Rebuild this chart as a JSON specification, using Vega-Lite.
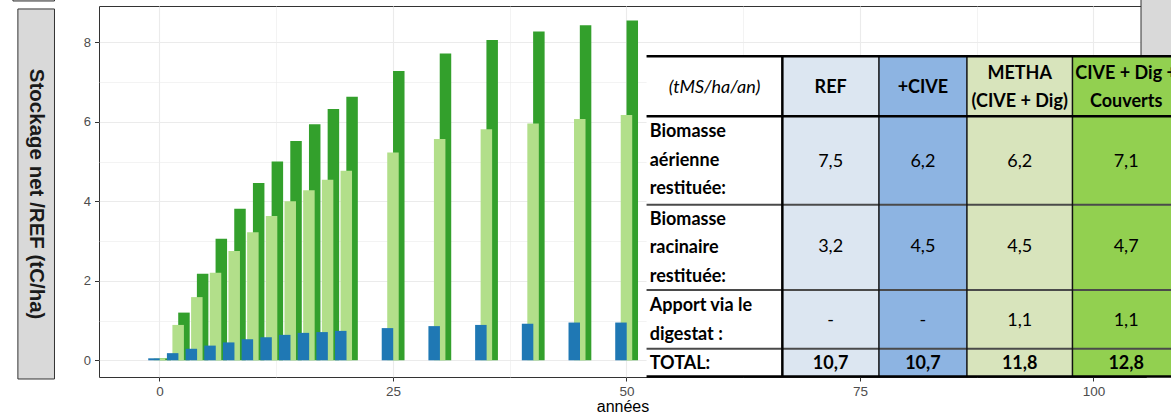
{
"$schema": "https://vega.github.io/schema/vega-lite/v6.json",
"autosize": {"type": "none"},
"width": 1047,
"height": 371,
"padding": {"left": 99, "top": 6, "right": 25, "bottom": 36},
"background": "white",
"config": {"view": {"stroke": "#333333", "strokeWidth": 1}, "font": "Liberation Sans"},
"datasets": {
"barres": [
{"annee":0,"scenario":"+CIVE","stock":0.05},{"annee":2,"scenario":"+CIVE","stock":0.18},{"annee":4,"scenario":"+CIVE","stock":0.29},{"annee":6,"scenario":"+CIVE","stock":0.37},{"annee":8,"scenario":"+CIVE","stock":0.45},{"annee":10,"scenario":"+CIVE","stock":0.53},{"annee":12,"scenario":"+CIVE","stock":0.58},{"annee":14,"scenario":"+CIVE","stock":0.64},{"annee":16,"scenario":"+CIVE","stock":0.69},{"annee":18,"scenario":"+CIVE","stock":0.71},{"annee":20,"scenario":"+CIVE","stock":0.74},{"annee":25,"scenario":"+CIVE","stock":0.81},{"annee":30,"scenario":"+CIVE","stock":0.86},{"annee":35,"scenario":"+CIVE","stock":0.89},{"annee":40,"scenario":"+CIVE","stock":0.92},{"annee":45,"scenario":"+CIVE","stock":0.95},{"annee":50,"scenario":"+CIVE","stock":0.95},
{"annee":0,"scenario":"METHA","stock":0.05},{"annee":2,"scenario":"METHA","stock":0.89},{"annee":4,"scenario":"METHA","stock":1.59},{"annee":6,"scenario":"METHA","stock":2.2},{"annee":8,"scenario":"METHA","stock":2.75},{"annee":10,"scenario":"METHA","stock":3.22},{"annee":12,"scenario":"METHA","stock":3.63},{"annee":14,"scenario":"METHA","stock":4.0},{"annee":16,"scenario":"METHA","stock":4.28},{"annee":18,"scenario":"METHA","stock":4.54},{"annee":20,"scenario":"METHA","stock":4.77},{"annee":25,"scenario":"METHA","stock":5.23},{"annee":30,"scenario":"METHA","stock":5.57},{"annee":35,"scenario":"METHA","stock":5.81},{"annee":40,"scenario":"METHA","stock":5.96},{"annee":45,"scenario":"METHA","stock":6.07},{"annee":50,"scenario":"METHA","stock":6.17},
{"annee":0,"scenario":"CIVE + Dig + Couverts","stock":0.05},{"annee":2,"scenario":"CIVE + Dig + Couverts","stock":1.2},{"annee":4,"scenario":"CIVE + Dig + Couverts","stock":2.18},{"annee":6,"scenario":"CIVE + Dig + Couverts","stock":3.06},{"annee":8,"scenario":"CIVE + Dig + Couverts","stock":3.81},{"annee":10,"scenario":"CIVE + Dig + Couverts","stock":4.46},{"annee":12,"scenario":"CIVE + Dig + Couverts","stock":5.0},{"annee":14,"scenario":"CIVE + Dig + Couverts","stock":5.52},{"annee":16,"scenario":"CIVE + Dig + Couverts","stock":5.94},{"annee":18,"scenario":"CIVE + Dig + Couverts","stock":6.32},{"annee":20,"scenario":"CIVE + Dig + Couverts","stock":6.63},{"annee":25,"scenario":"CIVE + Dig + Couverts","stock":7.28},{"annee":30,"scenario":"CIVE + Dig + Couverts","stock":7.72},{"annee":35,"scenario":"CIVE + Dig + Couverts","stock":8.06},{"annee":40,"scenario":"CIVE + Dig + Couverts","stock":8.27},{"annee":45,"scenario":"CIVE + Dig + Couverts","stock":8.43},{"annee":50,"scenario":"CIVE + Dig + Couverts","stock":8.55}
],
"colonnes": [
{"col":"libelle","x0":52.15,"x1":66.69,"y0":-0.408,"y1":7.648},
{"col":"REF","x0":66.69,"x1":77.03,"y0":-0.408,"y1":7.648},
{"col":"+CIVE","x0":77.03,"x1":86.45,"y0":-0.408,"y1":7.648},
{"col":"METHA","x0":86.45,"x1":97.75,"y0":-0.408,"y1":7.648},
{"col":"CIVE + Dig + Couverts","x0":97.75,"x1":112,"y0":-0.408,"y1":7.648}
],
"hlignes": [
{"y":7.648,"x0":52.15,"x1":112,"trait":"epais"},
{"y":6.141,"x0":52.15,"x1":112,"trait":"epais"},
{"y":3.914,"x0":52.15,"x1":112,"trait":"fin"},
{"y":1.766,"x0":52.15,"x1":112,"trait":"fin"},
{"y":0.292,"x0":52.15,"x1":112,"trait":"fin"},
{"y":-0.408,"x0":52.15,"x1":112,"trait":"epais"}
],
"vlignes": [
{"x":66.69,"y0":-0.408,"y1":7.648,"trait":"epais"},
{"x":77.03,"y0":-0.408,"y1":7.648,"trait":"fin"},
{"x":86.45,"y0":-0.408,"y1":7.648,"trait":"fin"},
{"x":97.75,"y0":-0.408,"y1":7.648,"trait":"fin"}
],
"textes": [
{"txt":"(tMS/ha/an)","x":59.43,"y":6.844,"style":"italique"},
{"txt":"REF","x":71.86,"y":6.844,"style":"gras"},
{"txt":"+CIVE","x":81.74,"y":6.844,"style":"gras"},
{"txt":"METHA\n(CIVE + Dig)","x":92.1,"y":7.205,"style":"gras"},
{"txt":"CIVE + Dig +\nCouverts","x":103.5,"y":7.205,"style":"gras"},
{"txt":"Biomasse\naérienne\nrestituée:","x":52.49,"y":5.741,"style":"libelle"},
{"txt":"Biomasse\nracinaire\nrestituée:","x":52.49,"y":3.542,"style":"libelle"},
{"txt":"Apport via le\ndigestat :","x":52.49,"y":1.356,"style":"libelle"},
{"txt":"TOTAL:","x":52.49,"y":-0.091,"style":"libelle"},
{"txt":"7,5","x":71.86,"y":5.0,"style":"normal"},
{"txt":"6,2","x":81.74,"y":5.0,"style":"normal"},
{"txt":"6,2","x":92.1,"y":5.0,"style":"normal"},
{"txt":"7,1","x":103.5,"y":5.0,"style":"normal"},
{"txt":"3,2","x":71.86,"y":2.848,"style":"normal"},
{"txt":"4,5","x":81.74,"y":2.848,"style":"normal"},
{"txt":"4,5","x":92.1,"y":2.848,"style":"normal"},
{"txt":"4,7","x":103.5,"y":2.848,"style":"normal"},
{"txt":"-","x":71.86,"y":1.0,"style":"normal"},
{"txt":"-","x":81.74,"y":1.0,"style":"normal"},
{"txt":"1,1","x":92.1,"y":1.0,"style":"normal"},
{"txt":"1,1","x":103.5,"y":1.0,"style":"normal"},
{"txt":"10,7","x":71.86,"y":-0.091,"style":"gras"},
{"txt":"10,7","x":81.74,"y":-0.091,"style":"gras"},
{"txt":"11,8","x":92.1,"y":-0.091,"style":"gras"},
{"txt":"12,8","x":103.5,"y":-0.091,"style":"gras"}
],
"bandeaux": [
{"titre":"Stockage net /REF (tC/ha)","x0":-15.16,"x1":-11.24,"y0":-0.47,"y1":8.838,"xc":-13.2,"yc":4.18,"cote":"gauche"},
{"titre":"","x0":-15.69,"x1":-11.24,"y0":9.039,"y1":10,"xc":-13.2,"yc":9.5,"cote":"haut"},
{"titre":"","x0":105.09,"x1":115,"y0":7.5,"y1":10,"xc":110,"yc":8,"cote":"droite"}
]
},
"layer": [
{
"data": {"name": "barres"},
"transform": [{"filter": "datum.scenario == 'CIVE + Dig + Couverts'"}],
"mark": {"type": "bar", "color": "#33a02c", "width": 11.5, "xOffset": 5.8},
"encoding": {
"x": {"field": "annee", "type": "quantitative", "title": "années", "scale": {"domain": [-5.94, 105.09], "nice": false, "zero": false},
"axis": {"title": "années", "values": [0, 12.5, 25, 37.5, 50, 62.5, 75, 87.5, 100], "format": "d",
"labelExpr": "datum.value % 25 == 0 ? datum.label : ''",
"grid": true, "gridColor": "#ebebeb",
"gridWidth": {"condition": {"test": "datum.value % 25 != 0", "value": 0.6}, "value": 1.1},
"tickOpacity": {"condition": {"test": "datum.value % 25 != 0", "value": 0}, "value": 1},
"domain": false, "tickColor": "#333333", "tickSize": 4, "labelColor": "#4d4d4d", "labelFontSize": 13.5, "labelPadding": 3,
"labelFlush": false, "labelOverlap": false,
"titleFontSize": 16, "titleFontWeight": "normal", "titleColor": "#000000", "titlePadding": 1}},
"y": {"field": "stock", "type": "quantitative", "title": null, "scale": {"domain": [-0.42, 8.913], "nice": false, "zero": false},
"axis": {"title": null, "values": [0, 1, 2, 3, 4, 5, 6, 7, 8], "format": "d",
"labelExpr": "datum.value % 2 == 0 ? datum.label : ''",
"grid": true, "gridColor": "#ebebeb",
"gridWidth": {"condition": {"test": "datum.value % 2 != 0", "value": 0.6}, "value": 1.1},
"tickOpacity": {"condition": {"test": "datum.value % 2 != 0", "value": 0}, "value": 1},
"domain": false, "tickColor": "#333333", "tickSize": 4.5, "labelColor": "#4d4d4d", "labelFontSize": 13, "labelPadding": 4,
"labelFlush": false, "labelOverlap": false}},
"y2": {"datum": 0}
}
},
{
"data": {"name": "barres"},
"transform": [{"filter": "datum.scenario == 'METHA'"}],
"mark": {"type": "bar", "color": "#b2df8a", "width": 11.5, "xOffset": 0},
"encoding": {
"x": {"field": "annee", "type": "quantitative", "title": "années", "scale": {"domain": [-5.94, 105.09], "nice": false, "zero": false}},
"y": {"field": "stock", "type": "quantitative", "title": null, "scale": {"domain": [-0.42, 8.913], "nice": false, "zero": false}},
"y2": {"datum": 0}
}
},
{
"data": {"name": "barres"},
"transform": [{"filter": "datum.scenario == '+CIVE'"}],
"mark": {"type": "bar", "color": "#1f78b4", "width": 11.5, "xOffset": -5.5},
"encoding": {
"x": {"field": "annee", "type": "quantitative", "title": "années", "scale": {"domain": [-5.94, 105.09], "nice": false, "zero": false}},
"y": {"field": "stock", "type": "quantitative", "title": null, "scale": {"domain": [-0.42, 8.913], "nice": false, "zero": false}},
"y2": {"datum": 0}
}
},
{
"data": {"name": "bandeaux"},
"mark": {"type": "rect", "fill": "#d9d9d9", "stroke": "#333333", "strokeWidth": 1},
"encoding": {
"x": {"field": "x0", "type": "quantitative", "title": "années", "scale": {"domain": [-5.94, 105.09], "nice": false, "zero": false}},
"x2": {"field": "x1"},
"y": {"field": "y0", "type": "quantitative", "title": null, "scale": {"domain": [-0.42, 8.913], "nice": false, "zero": false}},
"y2": {"field": "y1"}
}
},
{
"data": {"name": "bandeaux"},
"transform": [{"filter": "datum.cote == 'gauche'"}],
"mark": {"type": "text", "angle": 90, "align": "center", "baseline": "middle", "font": "Liberation Sans", "fontSize": 20.5, "fontWeight": "bold", "color": "#1a1a1a"},
"encoding": {
"x": {"field": "xc", "type": "quantitative", "title": "années", "scale": {"domain": [-5.94, 105.09], "nice": false, "zero": false}},
"y": {"field": "yc", "type": "quantitative", "title": null, "scale": {"domain": [-0.42, 8.913], "nice": false, "zero": false}},
"text": {"field": "titre"}
}
},
{
"data": {"name": "colonnes"},
"mark": {"type": "rect"},
"encoding": {
"x": {"field": "x0", "type": "quantitative", "title": "années", "scale": {"domain": [-5.94, 105.09], "nice": false, "zero": false}},
"x2": {"field": "x1"},
"y": {"field": "y0", "type": "quantitative", "title": null, "scale": {"domain": [-0.42, 8.913], "nice": false, "zero": false}},
"y2": {"field": "y1"},
"fill": {"field": "col", "type": "nominal", "legend": null,
"scale": {"domain": ["libelle", "REF", "+CIVE", "METHA", "CIVE + Dig + Couverts"], "range": ["#ffffff", "#dce6f1", "#8db4e2", "#d8e4bc", "#92d050"]}}
}
},
{
"data": {"name": "hlignes"},
"transform": [{"filter": "datum.trait == 'fin'"}],
"mark": {"type": "rule", "color": "#4a4a4a", "strokeWidth": 2},
"encoding": {
"x": {"field": "x0", "type": "quantitative", "title": "années", "scale": {"domain": [-5.94, 105.09], "nice": false, "zero": false}},
"x2": {"field": "x1"},
"y": {"field": "y", "type": "quantitative", "title": null, "scale": {"domain": [-0.42, 8.913], "nice": false, "zero": false}}
}
},
{
"data": {"name": "vlignes"},
"transform": [{"filter": "datum.trait == 'fin'"}],
"mark": {"type": "rule", "color": "#111111", "strokeWidth": 1.5},
"encoding": {
"x": {"field": "x", "type": "quantitative", "title": "années", "scale": {"domain": [-5.94, 105.09], "nice": false, "zero": false}},
"y": {"field": "y0", "type": "quantitative", "title": null, "scale": {"domain": [-0.42, 8.913], "nice": false, "zero": false}},
"y2": {"field": "y1"}
}
},
{
"data": {"name": "vlignes"},
"transform": [{"filter": "datum.trait == 'epais'"}],
"mark": {"type": "rule", "color": "#000000", "strokeWidth": 2.5},
"encoding": {
"x": {"field": "x", "type": "quantitative", "title": "années", "scale": {"domain": [-5.94, 105.09], "nice": false, "zero": false}},
"y": {"field": "y0", "type": "quantitative", "title": null, "scale": {"domain": [-0.42, 8.913], "nice": false, "zero": false}},
"y2": {"field": "y1"}
}
},
{
"data": {"name": "hlignes"},
"transform": [{"filter": "datum.trait == 'epais'"}],
"mark": {"type": "rule", "color": "#000000", "strokeWidth": 2.5},
"encoding": {
"x": {"field": "x0", "type": "quantitative", "title": "années", "scale": {"domain": [-5.94, 105.09], "nice": false, "zero": false}},
"x2": {"field": "x1"},
"y": {"field": "y", "type": "quantitative", "title": null, "scale": {"domain": [-0.42, 8.913], "nice": false, "zero": false}}
}
},
{
"data": {"name": "textes"},
"transform": [{"filter": "datum.style == 'italique'"}],
"mark": {"type": "text", "align": "center", "baseline": "middle", "font": "Lato", "fontSize": 18, "fontStyle": "italic", "color": "#000000"},
"encoding": {
"x": {"field": "x", "type": "quantitative", "title": "années", "scale": {"domain": [-5.94, 105.09], "nice": false, "zero": false}},
"y": {"field": "y", "type": "quantitative", "title": null, "scale": {"domain": [-0.42, 8.913], "nice": false, "zero": false}},
"text": {"field": "txt"}
}
},
{
"data": {"name": "textes"},
"transform": [{"filter": "datum.style == 'gras'"}],
"mark": {"type": "text", "align": "center", "baseline": "middle", "font": "Lato", "fontSize": 18, "fontWeight": "bold", "color": "#000000", "lineBreak": "\n", "lineHeight": 28.5},
"encoding": {
"x": {"field": "x", "type": "quantitative", "title": "années", "scale": {"domain": [-5.94, 105.09], "nice": false, "zero": false}},
"y": {"field": "y", "type": "quantitative", "title": null, "scale": {"domain": [-0.42, 8.913], "nice": false, "zero": false}},
"text": {"field": "txt"}
}
},
{
"data": {"name": "textes"},
"transform": [{"filter": "datum.style == 'libelle'"}],
"mark": {"type": "text", "align": "left", "baseline": "middle", "font": "Lato", "fontSize": 18, "fontWeight": "bold", "color": "#000000", "lineBreak": "\n", "lineHeight": 28.5},
"encoding": {
"x": {"field": "x", "type": "quantitative", "title": "années", "scale": {"domain": [-5.94, 105.09], "nice": false, "zero": false}},
"y": {"field": "y", "type": "quantitative", "title": null, "scale": {"domain": [-0.42, 8.913], "nice": false, "zero": false}},
"text": {"field": "txt"}
}
},
{
"data": {"name": "textes"},
"transform": [{"filter": "datum.style == 'normal'"}],
"mark": {"type": "text", "align": "center", "baseline": "middle", "font": "Lato", "fontSize": 18, "color": "#000000"},
"encoding": {
"x": {"field": "x", "type": "quantitative", "title": "années", "scale": {"domain": [-5.94, 105.09], "nice": false, "zero": false}},
"y": {"field": "y", "type": "quantitative", "title": null, "scale": {"domain": [-0.42, 8.913], "nice": false, "zero": false}},
"text": {"field": "txt"}
}
}
]
}
